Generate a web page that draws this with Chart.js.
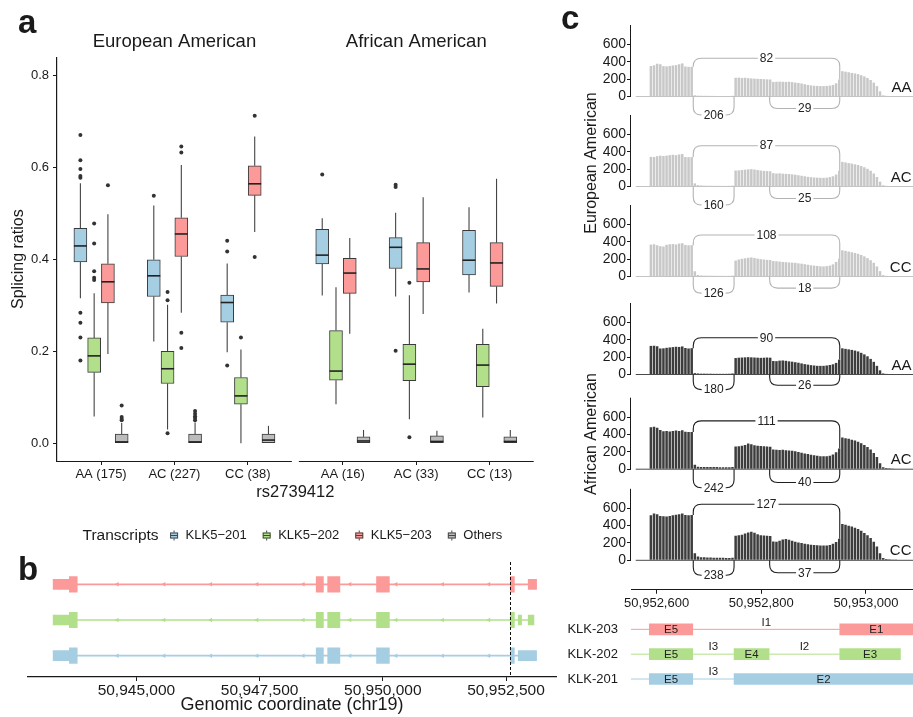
<!DOCTYPE html>
<html><head><meta charset="utf-8">
<script src="https://cdn.jsdelivr.net/npm/chart.js@4.4.1/dist/chart.umd.min.js"></script>
<style>
html,body{margin:0;padding:0;background:#fff;}
body{width:913px;height:717px;position:relative;overflow:hidden;}
canvas{position:absolute;}
</style></head><body>
<script>
// ================= DATA =================
// ---- panel a : splicing ratios (boxplots) ----
const GENOTYPE_GROUPS = ['AA (175)','AC (227)','CC (38)','AA (16)','AC (33)','CC (13)'];
const POPULATIONS = ['European American','African American'];
const TRANSCRIPTS = ['KLK5−201','KLK5−202','KLK5−203','Others'];
const TRANSCRIPT_COLORS = ['#a6cee3','#b2df8a','#fb9a99','#bcbcbc'];
const Y_TICKS_A = [0,0.2,0.4,0.6,0.8];
// [lower whisker, Q1, median, Q3, upper whisker] per genotype group
const BOX_KLK5_201 = [[0.315,0.394,0.429,0.467,0.565],[0.221,0.319,0.364,0.399,0.517],[0.198,0.263,0.306,0.322,0.391],
                      [0.321,0.390,0.409,0.465,0.489],[0.319,0.380,0.426,0.447,0.501],[0.328,0.366,0.398,0.463,0.513]];
const BOX_KLK5_202 = [[0.058,0.154,0.190,0.229,0.326],[0.030,0.130,0.162,0.200,0.301],[0.000,0.085,0.103,0.143,0.204],
                      [0.085,0.137,0.157,0.245,0.339],[0.052,0.136,0.172,0.215,0.322],[0.056,0.123,0.170,0.215,0.249]];
const BOX_KLK5_203 = [[0.194,0.305,0.351,0.390,0.498],[0.284,0.406,0.455,0.490,0.605],[0.459,0.539,0.564,0.603,0.667],
                      [0.238,0.326,0.370,0.402,0.446],[0.281,0.351,0.379,0.436,0.535],[0.304,0.341,0.392,0.436,0.575]];
const BOX_OTHERS   = [[0,0,0.003,0.020,0.044],[0,0,0.003,0.020,0.045],[0,0,0.007,0.020,0.038],
                      [0,0,0.005,0.014,0.029],[0,0,0.004,0.016,0.027],[0,0,0.004,0.014,0.029]];
const OUT_KLK5_201 = [[0.670,0.615,0.596,0.581,0.577,0.284,0.262,0.230,0.180],[0.538],[0.440,0.417,0.169],[0.584],[0.562,0.557,0.201],[]];
const OUT_KLK5_202 = [[0.478,0.434,0.374,0.360,0.355],[0.329,0.311,0.022],[0.230],[],[0.349,0.013],[]];
const OUT_KLK5_203 = [[0.561],[0.645,0.632,0.240,0.207],[0.712,0.405],[],[],[]];
const OUT_OTHERS   = [[0.082,0.057,0.053,0.050],[0.070,0.064,0.059,0.055,0.050],[],[],[],[]];

// ---- panel b : KLK5 transcript structures (chr19) ----
const B_CDS_203 = [[50943639,50943799],[50948648,50948794],[50948881,50949129],[50949872,50950133],[50952586,50952669]];
const B_UTR_203 = [[50943310,50943639],[50952950,50953120]];
const B_CDS_202 = [[50943639,50943799],[50948648,50948794],[50948881,50949129],[50949872,50950133],[50952586,50952669]];
const B_UTR_202 = [[50943310,50943639],[50952748,50952815],[50952950,50953066]];
const B_CDS_201 = [[50943639,50943799],[50948648,50948794],[50948881,50949129],[50949872,50950133],[50952586,50952669]];
const B_UTR_201 = [[50943310,50943639],[50952748,50953120]];
const B_STRAND_MARKS = [50944614,50945560,50946508,50947447,50948386,50949334,50950267,50951213,50952152];
const B_TICKS = [50945000,50947500,50950000,50952500];
const SNP_POS = 50952587;

// ---- panel c : sashimi coverage (6 bp bins starting at COV_START) ----
const COV_START = 50952586, COV_BIN = 6;
const COV_EA_AA = [352,360,378,372,350,348,352,358,362,372,382,346,342,344, 14,10,9,8,8,7,7,6,6,6,5,6,8,
  216,218,214,216,212,208,206,204,202,200,198,196, 168,170,172,170,168,170,166,160,156,150,142,134,128,124,122,120,120,122,126,134,152,196,
  292,286,280,272,266,258,246,232,214,190,160,120,60,14,8,5, 4,3,3,2];
const COV_EA_AC = [342,340,350,356,352,356,362,366,362,370,374,340,338,340, 36,16,12,10,9,9,8,8,8,7,7,8,10,
  184,186,190,194,198,200,196,190,184,180,178,176, 154,150,152,148,146,144,140,136,130,124,118,112,108,104,102,100,100,102,108,118,138,180,
  284,278,270,264,256,248,236,222,204,182,150,110,56,14,8,5, 4,3,3,2];
const COV_EA_CC = [368,372,360,350,346,366,372,374,370,380,384,364,360,362, 60,18,12,10,10,9,9,8,8,8,7,8,10,
  184,196,204,210,216,220,214,206,200,196,192,190, 178,176,172,168,165,162,160,158,152,148,142,136,130,126,122,118,116,120,126,140,168,206,
  302,296,288,280,272,262,248,232,212,188,158,116,62,16,8,5, 4,3,3,2];
const COV_AF_AA = [330,332,326,300,302,308,312,316,320,318,324,306,300,304, 16,12,10,10,9,9,8,8,8,8,8,9,12,
  190,194,196,198,200,198,196,194,192,194,196,194, 156,154,160,162,158,152,148,142,136,128,120,114,108,104,100,100,100,104,110,118,134,172,
  302,296,290,284,276,266,250,232,210,180,146,100,48,12,7,5, 4,3,3,2];
const COV_AF_AC = [484,490,478,452,438,440,436,442,446,440,448,432,428,430, 50,28,26,26,25,24,24,24,23,22,22,22,24,
  262,266,272,280,296,288,276,272,268,266,262,258, 226,224,222,224,220,216,212,206,198,190,182,174,166,160,154,150,148,150,156,170,196,240,
  366,358,350,340,330,318,300,280,256,226,188,140,70,22,14,10, 8,6,5,4];
const COV_AF_CC = [520,540,530,512,508,504,512,520,526,530,540,524,520,522, 80,44,36,34,32,32,30,30,28,28,26,26,28,
  282,288,296,310,322,330,318,300,290,286,282,280, 218,214,226,240,246,238,226,214,206,200,192,186,180,176,174,172,170,172,176,190,210,250,
  420,410,400,390,376,362,340,316,290,256,214,160,80,26,16,12, 10,8,6,5];
const SASHIMI_GENOTYPES = ['AA','AC','CC','AA','AC','CC'];
const JUNCTION_START = [50952670,50952670,50952816];
const JUNCTION_END   = [50952950,50952748,50952950];
const JUNCTION_COUNTS = [[82,206,29],[87,160,25],[108,126,18],[90,180,26],[111,242,40],[127,238,37]];
const ARC_LEVEL = [[441,-214,-138],[471,-214,-138],[479,-192,-134],[424,-174,-124],[557,-214,-153],[646,-173,-143]];
const BASELINE_SPAN = [50952560,50953090];
const SASH_Y_TICKS = [0,200,400,600];
const ZOOM_TICKS = [50952600,50952800,50953000];
const ZOOM_TRANSCRIPTS = ['KLK-203','KLK-202','KLK-201'];
const ZOOM_EXONS = [[[50952586,50952669],[50952950,50953120]],
                    [[50952586,50952669],[50952748,50952815],[50952950,50953066]],
                    [[50952586,50952669],[50952748,50953120]]];
const ZOOM_EXON_LABELS = [['E5','E1'],['E5','E4','E3'],['E5','E2']];
const ZOOM_INTRONS = [[[50952551,50952586],[50952669,50952950]],
                      [[50952551,50952586],[50952669,50952748],[50952815,50952950]],
                      [[50952551,50952586],[50952669,50952748]]];
const ZOOM_INTRON_LABELS = [['','I1'],['','I3','I2'],['','I3']];

// ================= SETUP =================
const FONT = "'Liberation Sans', Arial, Helvetica, sans-serif";
Chart.defaults.font.family = FONT;
Chart.defaults.color = '#1a1a1a';
Chart.defaults.animation = false;
const INK = '#1a1a1a';
function mk(left, top, w, h){
  const c = document.createElement('canvas');
  c.width = w; c.height = h;
  c.style.left = left+'px'; c.style.top = top+'px';
  c.style.width = w+'px'; c.style.height = h+'px';
  document.body.appendChild(c); return c;
}
const fmtComma = v => Math.round(v).toLocaleString('en-US');
const noPlug = {legend:{display:false}, tooltip:{enabled:false}};

// ================= PANEL A =================
const BOXES = [BOX_KLK5_201, BOX_KLK5_202, BOX_KLK5_203, BOX_OTHERS];
const OUTS = [OUT_KLK5_201, OUT_KLK5_202, OUT_KLK5_203, OUT_OTHERS];
const FACET_SHIFT = 3.295;
const GROUP_X = GENOTYPE_GROUPS.map((g,i)=> (i%3)+1 + Math.floor(i/3)*FACET_SHIFT);
const DODGE = [-0.28125,-0.09375,0.09375,0.28125];
const FACET_RANGES = [[0.4,3.6],[0.4+FACET_SHIFT,3.6+FACET_SHIFT]];

const boxParts = {
  id:'boxParts',
  beforeDatasetsDraw(chart){
    const {ctx, scales:{x,y}} = chart;
    ctx.save(); ctx.strokeStyle='#444'; ctx.lineWidth=1.1;
    BOXES.forEach((boxes,j)=>boxes.forEach((b,i)=>{
      const px = x.getPixelForValue(GROUP_X[i]+DODGE[j]);
      ctx.beginPath();
      ctx.moveTo(px, y.getPixelForValue(b[0])); ctx.lineTo(px, y.getPixelForValue(b[1]));
      ctx.moveTo(px, y.getPixelForValue(b[3])); ctx.lineTo(px, y.getPixelForValue(b[4]));
      ctx.stroke();
    }));
    ctx.restore();
  },
  afterDatasetsDraw(chart){
    const {ctx, scales:{x,y}} = chart;
    ctx.save(); ctx.strokeStyle='#222'; ctx.lineWidth=1.6;
    BOXES.forEach((boxes,j)=>boxes.forEach((b,i)=>{
      const px = x.getPixelForValue(GROUP_X[i]+DODGE[j]);
      const py = y.getPixelForValue(b[2]);
      ctx.beginPath(); ctx.moveTo(px-6.5, py); ctx.lineTo(px+6.5, py); ctx.stroke();
    }));
    ctx.restore();
  }
};
const panelADecor = {
  id:'panelADecor',
  afterDraw(chart){
    const {ctx, chartArea, scales:{x}} = chart;
    ctx.save();
    ctx.strokeStyle=INK; ctx.lineWidth=1.2;
    FACET_RANGES.forEach(r=>{
      ctx.beginPath();
      ctx.moveTo(x.getPixelForValue(r[0]), chartArea.bottom+0.5);
      ctx.lineTo(x.getPixelForValue(r[1]), chartArea.bottom+0.5);
      ctx.stroke();
    });
    ctx.fillStyle=INK; ctx.font=`18.5px ${FONT}`; ctx.textAlign='center'; ctx.textBaseline='middle';
    FACET_RANGES.forEach((r,k)=>{
      ctx.fillText(POPULATIONS[k], (x.getPixelForValue(r[0])+x.getPixelForValue(r[1]))/2, 42);
    });
    ctx.font=`bold 33px ${FONT}`; ctx.textAlign='left'; ctx.textBaseline='alphabetic';
    ctx.fillText('a', 18, 33);
    const ly = 535.5;
    ctx.textBaseline='middle';
    ctx.font=`15.5px ${FONT}`; ctx.fillText('Transcripts', 82.5, ly);
    let lx = 82.5 + ctx.measureText('Transcripts').width + 11.5;
    ctx.font=`13px ${FONT}`;
    TRANSCRIPTS.forEach((t,j)=>{
      const cx = lx + 4;
      ctx.strokeStyle='#444'; ctx.lineWidth=1;
      ctx.beginPath(); ctx.moveTo(cx, ly-5); ctx.lineTo(cx, ly+5); ctx.stroke();
      ctx.fillStyle=TRANSCRIPT_COLORS[j]; ctx.fillRect(cx-4, ly-3, 8, 6);
      ctx.strokeRect(cx-3.5, ly-2.5, 7, 5);
      ctx.beginPath(); ctx.moveTo(cx-3.5, ly); ctx.lineTo(cx+3.5, ly); ctx.stroke();
      ctx.fillStyle=INK; ctx.fillText(t, lx+15.5, ly);
      lx += 15.5 + ctx.measureText(t).width + 16;
    });
    ctx.restore();
  }
};
const boxDatasets = BOXES.map((boxes,j)=>({
  type:'bar', label:TRANSCRIPTS[j],
  data: boxes.map((b,i)=>({x:GROUP_X[i]+DODGE[j], y:[b[1],b[3]]})),
  backgroundColor:TRANSCRIPT_COLORS[j], borderColor:'#3a3a3a', borderWidth:1, borderSkipped:false,
  barThickness:13, grouped:false, order:3
}));
const outlierDatasets = OUTS.map((outs,j)=>({
  type:'scatter', label:TRANSCRIPTS[j]+' outliers',
  data: outs.flatMap((arr,i)=>arr.map(v=>({x:GROUP_X[i]+DODGE[j], y:v}))),
  pointRadius:2, pointBackgroundColor:'#333', pointBorderWidth:0, order:1
}));
new Chart(mk(0,0,560,548), {
  type:'bar',
  data:{datasets:[...boxDatasets, ...outlierDatasets]},
  options:{
    responsive:false, animation:false,
    layout:{padding:{top:57.3, left:0, right:26.3, bottom:37}},
    plugins:noPlug,
    scales:{
      x:{type:'linear', min:0.4, max:3.6+FACET_SHIFT, offset:false, bounds:'data',
         afterBuildTicks:s=>{ s.ticks = GROUP_X.map(v=>({value:v})); },
         afterFit:s=>{ s.height = 50; },
         ticks:{callback:(v,i)=>GENOTYPE_GROUPS[i], font:{size:13}, color:INK, padding:2, maxRotation:0, autoSkip:false},
         grid:{display:true, drawOnChartArea:false, offset:false, tickLength:4, color:INK, lineWidth:1},
         border:{display:false},
         title:{display:true, text:'rs2739412', font:{size:16.5}, color:INK, padding:{top:0,bottom:9.1}}},
      y:{type:'linear', min:-0.0385, max:0.839, bounds:'data',
         afterBuildTicks:s=>{ s.ticks = Y_TICKS_A.map(v=>({value:v})); },
         afterFit:s=>{ s.width = 57; },
         ticks:{callback:v=>Number(v).toFixed(1), font:{size:13}, color:INK, padding:4},
         grid:{display:true, drawOnChartArea:false, tickLength:4, color:INK, lineWidth:1},
         border:{display:true, color:INK, width:1.2},
         title:{display:true, text:'Splicing ratios', font:{size:16}, color:INK, padding:{top:8.7,bottom:0}}}
    }
  },
  plugins:[boxParts, panelADecor]
});

// ================= PANEL B =================
const B_ROWS = [
  {row:3, color:TRANSCRIPT_COLORS[2], cds:B_CDS_203, utr:B_UTR_203},
  {row:2, color:TRANSCRIPT_COLORS[1], cds:B_CDS_202, utr:B_UTR_202},
  {row:1, color:TRANSCRIPT_COLORS[0], cds:B_CDS_201, utr:B_UTR_201}];
const bDatasets = [];
B_ROWS.forEach(r=>{
  const all = r.cds.concat(r.utr);
  const s = Math.min(...all.map(e=>e[0])), e = Math.max(...all.map(e=>e[1]));
  bDatasets.push({type:'line', indexAxis:'x', data:[{x:s,y:r.row},{x:e,y:r.row}], borderColor:r.color, borderWidth:1.7, pointRadius:0, order:4});
  bDatasets.push({type:'scatter', indexAxis:'x', data:B_STRAND_MARKS.map(x=>({x,y:r.row})), pointStyle:'triangle', rotation:-90,
                  pointRadius:2.6, pointBackgroundColor:r.color, pointBorderColor:r.color, pointBorderWidth:0, order:3});
  bDatasets.push({type:'bar', indexAxis:'y', data:r.utr.map(u=>({x:u, y:r.row})), backgroundColor:r.color, barThickness:10, grouped:false, order:2});
  bDatasets.push({type:'bar', indexAxis:'y', data:r.cds.map(u=>({x:u, y:r.row})), backgroundColor:r.color, barThickness:15.5, grouped:false, order:1});
});
const panelBDecor = {
  id:'panelBDecor',
  afterDraw(chart){
    const {ctx, chartArea, scales:{x}} = chart;
    ctx.save();
    const px = Math.round(x.getPixelForValue(SNP_POS))+0.5;
    ctx.strokeStyle='#111'; ctx.lineWidth=1; ctx.setLineDash([3,2]);
    ctx.beginPath(); ctx.moveTo(px, chartArea.top-4.5); ctx.lineTo(px, chartArea.bottom); ctx.stroke();
    ctx.setLineDash([]);
    ctx.fillStyle=INK; ctx.font=`bold 33px ${FONT}`; ctx.textBaseline='alphabetic';
    ctx.fillText('b', 18, 32);
    ctx.restore();
  }
};
new Chart(mk(0,548,560,169), {
  type:'bar',
  data:{datasets:bDatasets},
  options:{
    indexAxis:'y', responsive:false, animation:false,
    layout:{padding:{top:18.5, left:28, right:4, bottom:0}},
    plugins:noPlug,
    scales:{
      x:{type:'linear', min:50942800, max:50953514, offset:false, bounds:'data',
         afterBuildTicks:s=>{ s.ticks = B_TICKS.map(v=>({value:v})); },
         afterFit:s=>{ s.height = 40; },
         ticks:{callback:v=>fmtComma(v), font:{size:15.5}, color:INK, padding:0, maxRotation:0, autoSkip:false},
         grid:{display:true, drawOnChartArea:false, offset:false, tickLength:4, color:INK},
         border:{display:true, color:INK, width:1.2},
         title:{display:true, text:'Genomic coordinate (chr19)', font:{size:18}, color:INK, padding:{top:0,bottom:1.2}}},
      y:{type:'linear', min:0.403, max:3.5, display:false, offset:false}
    }
  },
  plugins:[panelBDecor]
});

// ================= PANEL C : sashimi =================
const SASHIMI_COVERAGE = [COV_EA_AA, COV_EA_AC, COV_EA_CC, COV_AF_AA, COV_AF_AC, COV_AF_CC];
const SASH_LEFT = 560, SASH_W = 353, SASH_H = 620;
const SASH_ZERO = [96.5,186.5,276.5,374.5,469.2,560.3];
const SASH_YMAX = 825, SASH_YMIN = -340, SASH_PX = 0.08667;
const ZX_MIN = 50952551, ZX_MAX = 50953090;

function drawArc(ctx, x1, y1, x2, y2, yL, r){
  const up = yL < y1;
  const rr = Math.max(1, Math.min(r, Math.abs(yL-y1), Math.abs(yL-y2), (x2-x1)/2));
  const d = up ? rr : -rr;
  ctx.beginPath();
  ctx.moveTo(x1, y1);
  ctx.lineTo(x1, yL + d);
  ctx.quadraticCurveTo(x1, yL, x1+rr, yL);
  ctx.lineTo(x2-rr, yL);
  ctx.quadraticCurveTo(x2, yL, x2, yL + d);
  ctx.lineTo(x2, y2);
  ctx.stroke();
}
function sashimiDecor(i){
  const dark = i >= 3;
  return {
    id:'sashDecor'+i,
    afterDatasetsDraw(chart){
      const {ctx, chartArea, scales:{x,y}} = chart;
      const cov = SASHIMI_COVERAGE[i];
      const covAt = p => cov[Math.floor((p-COV_START)/COV_BIN - 0.5)];
      ctx.save();
      ctx.strokeStyle=INK; ctx.lineWidth=1;
      ctx.beginPath(); ctx.moveTo(chartArea.left-0.5, y.getPixelForValue(0)); ctx.lineTo(chartArea.left-0.5, chartArea.top); ctx.stroke();
      ctx.strokeStyle = dark ? '#1e1e1e' : '#b3b3b3'; ctx.lineWidth = 1.1;
      ctx.font = `12px ${FONT}`; ctx.textAlign='center'; ctx.textBaseline='middle';
      JUNCTION_START.forEach((s,j)=>{
        const e = JUNCTION_END[j];
        const x1 = x.getPixelForValue(s), x2 = x.getPixelForValue(e);
        const above = ARC_LEVEL[i][j] > 0;
        const y1 = y.getPixelForValue(above ? covAt(s) : 0);
        const y2 = y.getPixelForValue(above ? covAt(e) : 0);
        const yL = y.getPixelForValue(ARC_LEVEL[i][j]);
        drawArc(ctx, x1, y1, x2, y2, yL, 8);
        const label = String(JUNCTION_COUNTS[i][j]);
        const w = ctx.measureText(label).width + 4;
        const cx = (x1+x2)/2;
        ctx.fillStyle='#fff'; ctx.fillRect(cx-w/2, yL-6.5, w, 13);
        ctx.fillStyle='#222'; ctx.fillText(label, cx, yL+0.5);
      });
      ctx.fillStyle=INK; ctx.font=`15px ${FONT}`; ctx.textAlign='right'; ctx.textBaseline='middle';
      ctx.fillText(SASHIMI_GENOTYPES[i], chartArea.right-1.5, y.getPixelForValue(0)-9);
      ctx.textAlign='center';
      if (i === 0){ ctx.font=`bold 33px ${FONT}`; ctx.textBaseline='alphabetic'; ctx.textAlign='left'; ctx.fillText('c', 1, 29); }
      if (i === 1 || i === 4){
        ctx.font=`16px ${FONT}`; ctx.textBaseline='middle'; ctx.textAlign='center';
        ctx.translate(31.5, i === 1 ? 163 : 434); ctx.rotate(-Math.PI/2);
        ctx.fillText(POPULATIONS[i === 1 ? 0 : 1], 0, 0);
      }
      ctx.restore();
    }
  };
}
function makeSashimi(i){
  const areaTop = SASH_ZERO[i] - SASH_YMAX*SASH_PX;
  const areaH = (SASH_YMAX - SASH_YMIN)*SASH_PX;
  const showX = i === 5;
  const axisH = 30;
  const padBottom = SASH_H - areaTop - areaH - (showX ? axisH : 0);
  const dark = i >= 3;
  const cov = SASHIMI_COVERAGE[i];
  new Chart(mk(SASH_LEFT, 0, SASH_W, SASH_H), {
    type:'bar',
    data:{datasets:[
      {type:'bar', label:'coverage', data: cov.map((v,k)=>({x: COV_START + COV_BIN*k + COV_BIN/2, y:v})),
       backgroundColor: dark ? '#3d3d3d' : '#c8c8c8', categoryPercentage:1, barPercentage:0.8, order:2},
      {type:'line', label:'baseline', data: BASELINE_SPAN.map(v=>({x:v, y:0})),
       borderColor: dark ? '#4a4a4a' : '#c4c4c4', borderWidth:1, pointRadius:0, order:1}
    ]},
    options:{
      responsive:false, animation:false,
      layout:{padding:{top:areaTop, bottom:padBottom, left:0, right:0}},
      plugins:noPlug,
      scales:{
        x:{type:'linear', min:ZX_MIN, max:ZX_MAX, offset:false, bounds:'data', display:showX,
           afterBuildTicks:s=>{ s.ticks = ZOOM_TICKS.map(v=>({value:v})); },
           afterFit:s=>{ if (showX) s.height = axisH; },
           ticks:{callback:v=>fmtComma(v), font:{size:13}, color:INK, padding:2, maxRotation:0, autoSkip:false},
           grid:{display:true, drawOnChartArea:false, offset:false, tickLength:4, color:INK},
           border:{display:true, color:INK, width:1}},
        y:{type:'linear', min:SASH_YMIN, max:SASH_YMAX, bounds:'data',
           afterBuildTicks:s=>{ s.ticks = SASH_Y_TICKS.map(v=>({value:v})); },
           afterFit:s=>{ s.width = 71; },
           ticks:{font:{size:14}, color:INK, padding:1},
           grid:{display:true, drawOnChartArea:false, tickLength:4, color:INK},
           border:{display:false}}
      }
    },
    plugins:[sashimiDecor(i)]
  });
}
for (let i=0;i<6;i++) makeSashimi(i);

// ================= PANEL C : transcript models =================
const ZOOM_COLORS = [TRANSCRIPT_COLORS[2], TRANSCRIPT_COLORS[1], TRANSCRIPT_COLORS[0]];
const gDatasets = [];
ZOOM_TRANSCRIPTS.forEach((t,k)=>{
  const row = 3-k;
  gDatasets.push({type:'line', indexAxis:'x', label:t+' introns',
    data: ZOOM_INTRONS[k].flatMap(iv=>[{x:iv[0],y:row},{x:iv[1],y:row},{x:iv[1],y:null}]),
    borderColor:ZOOM_COLORS[k], borderWidth:1, pointRadius:0, spanGaps:false, order:2});
  gDatasets.push({type:'bar', indexAxis:'y', label:t+' exons',
    data: ZOOM_EXONS[k].map(e=>({x:e, y:row})), backgroundColor:ZOOM_COLORS[k], barThickness:11, grouped:false, order:1});
});
const geneDecor = {
  id:'geneDecor',
  afterDatasetsDraw(chart){
    const {ctx, scales:{x,y}} = chart;
    ctx.save();
    ctx.fillStyle='#222'; ctx.textAlign='center'; ctx.textBaseline='middle';
    ZOOM_TRANSCRIPTS.forEach((t,k)=>{
      const py = y.getPixelForValue(3-k);
      ctx.font=`11.5px ${FONT}`;
      ZOOM_EXONS[k].forEach((e,m)=>{
        const a = Math.max(e[0], ZX_MIN), b = Math.min(e[1], ZX_MAX);
        ctx.fillText(ZOOM_EXON_LABELS[k][m], (x.getPixelForValue(a)+x.getPixelForValue(b))/2, py+0.5);
      });
      ZOOM_INTRONS[k].forEach((e,m)=>{
        const lab = ZOOM_INTRON_LABELS[k][m];
        if (lab) ctx.fillText(lab, (x.getPixelForValue(e[0])+x.getPixelForValue(e[1]))/2, py-7);
      });
    });
    ctx.restore();
  }
};
new Chart(mk(560,606,353,111), {
  type:'bar',
  data:{datasets:gDatasets},
  options:{
    indexAxis:'y', responsive:false, animation:false,
    layout:{padding:0},
    plugins:noPlug,
    scales:{
      x:{type:'linear', min:ZX_MIN, max:ZX_MAX, display:false, offset:false},
      y:{type:'linear', min:-0.53, max:3.94, offset:false, bounds:'data',
         afterBuildTicks:s=>{ s.ticks = [3,2,1].map(v=>({value:v})); },
         afterFit:s=>{ s.width = 71; s.paddingTop = 0; s.paddingBottom = 0; },
         ticks:{callback:v=>ZOOM_TRANSCRIPTS[3-v], font:{size:13}, color:INK, padding:5},
         grid:{display:false}, border:{display:false}}
    }
  },
  plugins:[geneDecor]
});
</script>
</body></html>
